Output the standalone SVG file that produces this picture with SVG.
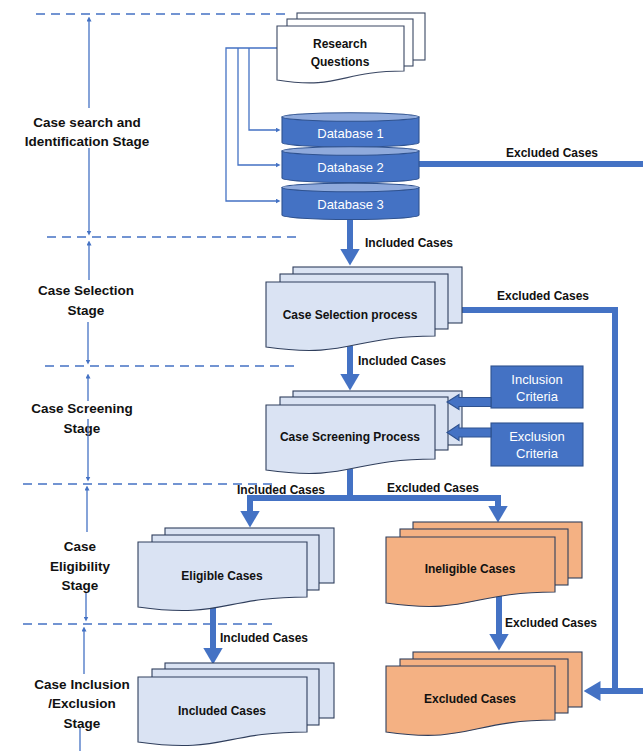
<svg xmlns="http://www.w3.org/2000/svg" width="643" height="751" viewBox="0 0 643 751">
  <style>
    .bg { fill: #ffffff; }
    .stage { font-family: "Liberation Sans", Arial, sans-serif; font-size: 13.5px; font-weight: bold; fill: #111; text-anchor: middle; }
    .lbl { font-family: "Liberation Sans", Arial, sans-serif; font-size: 12px; font-weight: bold; fill: #111; }
    .doc-text { font-family: "Liberation Sans", Arial, sans-serif; font-size: 12px; font-weight: bold; fill: #111; text-anchor: middle; }
    .white-text { font-family: "Liberation Sans", Arial, sans-serif; font-size: 13px; fill: #ffffff; text-anchor: middle; }
    .dash { stroke: #4472c4; stroke-width: 1.5; stroke-dasharray: 9 6; fill: none; }
    .thin { stroke: #4472c4; stroke-width: 1.3; fill: none; }
    .thick { stroke: #4472c4; stroke-width: 6; fill: none; stroke-linejoin: miter; }
    .paper-white { fill: #ffffff; stroke: #3a4763; stroke-width: 1.1; }
    .paper-blue { fill: #dae3f3; stroke: #2f3e5c; stroke-width: 1.1; }
    .paper-orange { fill: #f4b183; stroke: #2f3e5c; stroke-width: 1.1; }
    .db-body { fill: #4472c4; stroke: #2f528f; stroke-width: 1.1; }
    .db-top { fill: #8faadc; stroke: #2f528f; stroke-width: 1.1; }
    .crit { fill: #4472c4; stroke: #2f528f; stroke-width: 1.1; }
  </style>
  <defs>
    <marker id="headBig" markerUnits="userSpaceOnUse" viewBox="0 0 17 20" refX="0.5" refY="10" markerWidth="17" markerHeight="20" orient="auto">
      <path d="M0,0 L17,10 L0,20 Z" fill="#4472c4"/>
    </marker>
    <marker id="headSmall" markerUnits="userSpaceOnUse" viewBox="0 0 5 5" refX="0.5" refY="2.5" markerWidth="5" markerHeight="5" orient="auto">
      <path d="M0,0 L5,2.5 L0,5 Z" fill="#4472c4"/>
    </marker>
  </defs>

  <rect class="bg" x="0" y="0" width="643" height="751"/>

  <!-- stage boundaries -->
  <g id="stage-dividers">
    <line class="dash" x1="36" y1="14" x2="290" y2="14"/>
    <line class="dash" x1="47" y1="237" x2="300" y2="237"/>
    <line class="dash" x1="45" y1="366" x2="298" y2="366"/>
    <line class="dash" x1="23" y1="484" x2="277" y2="484"/>
    <line class="dash" x1="23" y1="624" x2="277" y2="624"/>
  </g>

  <!-- stage labels with span arrows -->
  <g id="stage-search">
    <path class="thin" d="M89,108 V21" marker-end="url(#headSmall)"/>
    <path class="thin" d="M89,148 V231" marker-end="url(#headSmall)"/>
    <text class="stage" x="87" y="127">Case search and</text>
    <text class="stage" x="87" y="146">Identification Stage</text>
  </g>
  <g id="stage-selection">
    <path class="thin" d="M89,280 V245" marker-end="url(#headSmall)"/>
    <path class="thin" d="M88,322 V360" marker-end="url(#headSmall)"/>
    <text class="stage" x="86" y="295">Case Selection</text>
    <text class="stage" x="86" y="315">Stage</text>
  </g>
  <g id="stage-screening">
    <path class="thin" d="M88,401 V378" marker-end="url(#headSmall)"/>
    <text class="stage" x="82" y="413">Case Screening</text>
    <text class="stage" x="82" y="433">Stage</text>
    <path class="thin" d="M88,419 V477" marker-end="url(#headSmall)"/>
  </g>
  <g id="stage-eligibility">
    <path class="thin" d="M87,532 V490" marker-end="url(#headSmall)"/>
    <path class="thin" d="M86,593 V617" marker-end="url(#headSmall)"/>
    <text class="stage" x="80" y="551">Case</text>
    <text class="stage" x="80" y="571">Eligibility</text>
    <text class="stage" x="80" y="590">Stage</text>
  </g>
  <g id="stage-inclusion">
    <path class="thin" d="M84,674 V631" marker-end="url(#headSmall)"/>
    <path class="thin" d="M80,728 V751"/>
    <text class="stage" x="82" y="689">Case Inclusion</text>
    <text class="stage" x="82" y="708">/Exclusion</text>
    <text class="stage" x="82" y="728">Stage</text>
  </g>

  <!-- connectors -->
  <g id="connectors">
    <path class="thin" d="M277,48 H226 V201 H276" marker-end="url(#headSmall)"/>
    <path class="thin" d="M238,48 V165 H276" marker-end="url(#headSmall)"/>
    <path class="thin" d="M249,48 V130 H276" marker-end="url(#headSmall)"/>

    <path class="thick" d="M419,164 H643"/>
    <text class="lbl" x="506" y="157">Excluded Cases</text>

    <path class="thick" d="M350,219 V249" marker-end="url(#headBig)"/>
    <text class="lbl" x="365" y="247">Included Cases</text>

    <path class="thick" d="M462,310 H615 V694"/>
    <path class="thick" d="M643,691 H600" marker-end="url(#headBig)"/>
    <text class="lbl" x="497" y="300">Excluded Cases</text>

    <path class="thick" d="M350,346 V374" marker-end="url(#headBig)"/>
    <text class="lbl" x="358" y="365">Included Cases</text>

    <path class="thick" d="M350,469 V501"/>
    <path class="thick" d="M350,498 H250 V511" marker-end="url(#headBig)"/>
    <path class="thick" d="M350,498 H498 V506" marker-end="url(#headBig)"/>
    <text class="lbl" x="237" y="494">Included Cases</text>
    <text class="lbl" x="387" y="492">Excluded Cases</text>

    <path class="thick" d="M213,604 V648" marker-end="url(#headBig)"/>
    <text class="lbl" x="220" y="642">Included Cases</text>

    <path class="thick" d="M499,594 V634" marker-end="url(#headBig)"/>
    <text class="lbl" x="505" y="627">Excluded Cases</text>
  </g>

  <!-- research questions -->
  <g id="research-questions">
    <rect class="paper-white" x="297" y="13" width="128" height="47"/>
    <rect class="paper-white" x="287" y="19" width="126" height="47"/>
    <path class="paper-white" d="M277,26 H404 V71 C340,71 340,90 277,80 Z"/>
    <text class="doc-text" x="340" y="48">Research</text>
    <text class="doc-text" x="340" y="66">Questions</text>
  </g>

  <!-- databases -->
  <g id="database-1">
    <path class="db-body" d="M282,117 V142.5 A68.5,4.5 0 0 0 419,142.5 V117 Z"/>
    <ellipse class="db-top" cx="350.5" cy="117" rx="68.5" ry="4.2"/>
    <text class="white-text" x="350.5" y="138">Database 1</text>
  </g>
  <g id="database-2">
    <path class="db-body" d="M282,151 V178 A68.5,4.5 0 0 0 419,178 V151 Z"/>
    <ellipse class="db-top" cx="350.5" cy="151" rx="68.5" ry="4.2"/>
    <text class="white-text" x="350.5" y="172">Database 2</text>
  </g>
  <g id="database-3">
    <path class="db-body" d="M282,187.5 V215 A68.5,4.5 0 0 0 419,215 V187.5 Z"/>
    <ellipse class="db-top" cx="350.5" cy="187.5" rx="68.5" ry="4.2"/>
    <text class="white-text" x="350.5" y="209">Database 3</text>
  </g>

  <!-- case selection process -->
  <g id="case-selection">
    <rect class="paper-blue" x="293" y="267" width="169" height="56"/>
    <rect class="paper-blue" x="280" y="274" width="168" height="55"/>
    <path class="paper-blue" d="M266,282 H435 V336 C350,336 350,359 266,347 Z"/>
    <text class="doc-text" x="350" y="319">Case Selection process</text>
  </g>

  <!-- case screening process -->
  <g id="case-screening">
    <rect class="paper-blue" x="293" y="391" width="169" height="54"/>
    <rect class="paper-blue" x="280" y="397" width="168" height="53"/>
    <path class="paper-blue" d="M266,405 H435 V459 C350,459 350,482 266,470 Z"/>
    <text class="doc-text" x="350" y="441">Case Screening Process</text>
  </g>

  <g id="inclusion-criteria">
    <rect class="crit" x="491" y="366" width="92" height="42"/>
    <text class="white-text" x="537" y="384">Inclusion</text>
    <text class="white-text" x="537" y="401">Criteria</text>
  </g>
  <g id="exclusion-criteria">
    <rect class="crit" x="491" y="423" width="92" height="43"/>
    <text class="white-text" x="537" y="441">Exclusion</text>
    <text class="white-text" x="537" y="458">Criteria</text>
  </g>

  <!-- criteria block arrows, drawn over the screening pages -->
  <g id="criteria-connectors">
    <polygon class="crit" points="491,397.5 459,397.5 459,394.5 447,402 459,409.5 459,406.5 491,406.5"/>
    <polygon class="crit" points="491,428 459,428 459,424.5 447,432.5 459,440.5 459,437 491,437"/>
  </g>

  <!-- eligible cases -->
  <g id="eligible-cases">
    <rect class="paper-blue" x="165" y="528" width="169" height="55"/>
    <rect class="paper-blue" x="152" y="535" width="167" height="55"/>
    <path class="paper-blue" d="M138,542 H307 V597 C222,597 222,619 138,607 Z"/>
    <text class="doc-text" x="222" y="580">Eligible Cases</text>
  </g>

  <!-- included cases -->
  <g id="included-cases">
    <rect class="paper-blue" x="165" y="663" width="169" height="55"/>
    <rect class="paper-blue" x="152" y="669" width="167" height="56"/>
    <path class="paper-blue" d="M138,677 H307 V732 C222,732 222,754 138,742 Z"/>
    <text class="doc-text" x="222" y="715">Included Cases</text>
  </g>

  <!-- ineligible cases -->
  <g id="ineligible-cases">
    <rect class="paper-orange" x="413" y="522" width="169" height="56"/>
    <rect class="paper-orange" x="400" y="529" width="168" height="56"/>
    <path class="paper-orange" d="M386,537 H555 V592 C470,592 470,615 386,603 Z"/>
    <text class="doc-text" x="470" y="573">Ineligible Cases</text>
  </g>

  <!-- excluded cases -->
  <g id="excluded-cases">
    <rect class="paper-orange" x="413" y="652" width="169" height="55"/>
    <rect class="paper-orange" x="400" y="659" width="168" height="54"/>
    <path class="paper-orange" d="M386,666 H555 V720 C470,720 470,744 386,732 Z"/>
    <text class="doc-text" x="470" y="703">Excluded Cases</text>
  </g>
</svg>
